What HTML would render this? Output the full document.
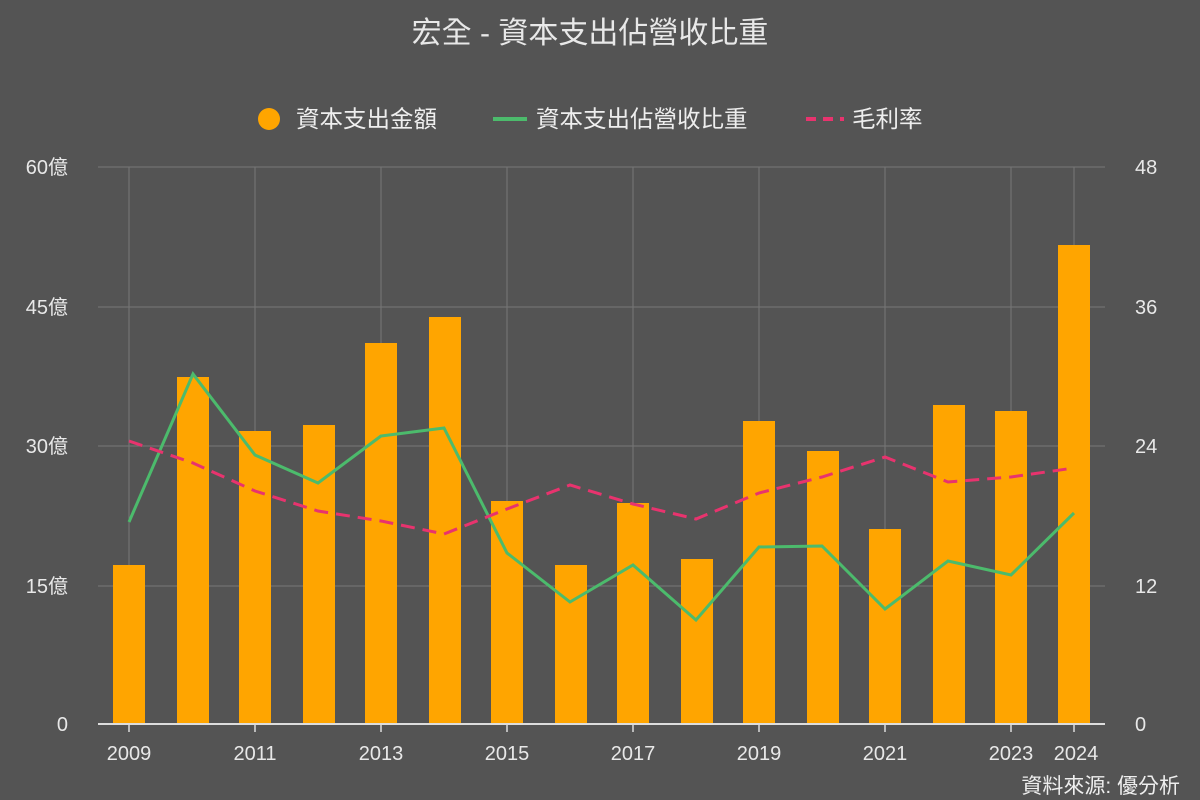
<!DOCTYPE html>
<html><head><meta charset="utf-8"><style>
body{margin:0;background:#545454;}
svg{display:block;font-family:"Liberation Sans","Noto Sans CJK TC",sans-serif;}
</style></head><body>
<svg width="1200" height="800" viewBox="0 0 1200 800">
<rect width="1200" height="800" fill="#545454"/>
<text x="590" y="43" fill="#e8e8e8" font-size="30" text-anchor="middle">宏全 - 資本支出佔營收比重</text>
<circle cx="269" cy="119" r="11" fill="#ffa500"/>
<text x="296" y="127" fill="#eee" font-size="23.5">資本支出金額</text>
<line x1="493" y1="119" x2="527" y2="119" stroke="#4cbb6c" stroke-width="4"/>
<text x="536" y="127" fill="#eee" font-size="23.5">資本支出佔營收比重</text>
<line x1="806" y1="119" x2="844" y2="119" stroke="#e8336e" stroke-width="4" stroke-dasharray="10,7"/>
<text x="852" y="127" fill="#eee" font-size="23.5">毛利率</text>
<g stroke="#777" stroke-width="1">
<line x1="98" y1="167" x2="1105" y2="167"/><line x1="98" y1="307" x2="1105" y2="307"/>
<line x1="98" y1="446" x2="1105" y2="446"/><line x1="98" y1="586" x2="1105" y2="586"/>
<line x1="129" y1="167" x2="129" y2="724"/><line x1="255" y1="167" x2="255" y2="724"/>
<line x1="381" y1="167" x2="381" y2="724"/><line x1="507" y1="167" x2="507" y2="724"/>
<line x1="633" y1="167" x2="633" y2="724"/><line x1="759" y1="167" x2="759" y2="724"/>
<line x1="885" y1="167" x2="885" y2="724"/><line x1="1011" y1="167" x2="1011" y2="724"/>
<line x1="1074" y1="167" x2="1074" y2="724"/>
</g>
<g fill="#ffa500">
<rect x="113" y="565" width="32" height="159"/><rect x="177" y="377" width="32" height="347"/>
<rect x="239" y="431" width="32" height="293"/><rect x="303" y="425" width="32" height="299"/>
<rect x="365" y="343" width="32" height="381"/><rect x="429" y="317" width="32" height="407"/>
<rect x="491" y="501" width="32" height="223"/><rect x="555" y="565" width="32" height="159"/>
<rect x="617" y="503" width="32" height="221"/><rect x="681" y="559" width="32" height="165"/>
<rect x="743" y="421" width="32" height="303"/><rect x="807" y="451" width="32" height="273"/>
<rect x="869" y="529" width="32" height="195"/><rect x="933" y="405" width="32" height="319"/>
<rect x="995" y="411" width="32" height="313"/><rect x="1058" y="245" width="32" height="479"/>
</g>
<polyline fill="none" stroke="#4cbb6c" stroke-width="3" points="129,522 193,374 255,455 318,483 381,436 444,428 507,553 570,602 633,565 696,620 759,547 822,546 885,609 948,561 1011,575 1074,513"/>
<polyline fill="none" stroke="#e8336e" stroke-width="3" stroke-dasharray="14,8" points="129,441 193,463 255,491 318,511 381,521 444,534 507,509 570,485 633,504 696,519 759,493 822,477 885,457 948,482 1011,477 1074,468"/>
<line x1="98" y1="724" x2="1105" y2="724" stroke="#ddd" stroke-width="2"/>
<g stroke="#ddd" stroke-width="1.5">
<line x1="129" y1="724" x2="129" y2="732"/><line x1="255" y1="724" x2="255" y2="732"/><line x1="381" y1="724" x2="381" y2="732"/><line x1="507" y1="724" x2="507" y2="732"/><line x1="633" y1="724" x2="633" y2="732"/><line x1="759" y1="724" x2="759" y2="732"/><line x1="885" y1="724" x2="885" y2="732"/><line x1="1011" y1="724" x2="1011" y2="732"/><line x1="1074" y1="724" x2="1074" y2="732"/>
</g>
<g fill="#e8e8e8" font-size="20" text-anchor="end">
<text x="68" y="174">60億</text><text x="68" y="314">45億</text><text x="68" y="453">30億</text><text x="68" y="593">15億</text><text x="68" y="731">0</text>
</g>
<g fill="#e8e8e8" font-size="20" text-anchor="start">
<text x="1135" y="174">48</text><text x="1135" y="314">36</text><text x="1135" y="453">24</text><text x="1135" y="593">12</text><text x="1135" y="731">0</text>
</g>
<g fill="#e8e8e8" font-size="20" text-anchor="middle">
<text x="129" y="760">2009</text><text x="255" y="760">2011</text><text x="381" y="760">2013</text><text x="507" y="760">2015</text><text x="633" y="760">2017</text><text x="759" y="760">2019</text><text x="885" y="760">2021</text><text x="1011" y="760">2023</text><text x="1076" y="760">2024</text>
</g>
<text x="1180" y="793" fill="#eee" font-size="21" text-anchor="end">資料來源: 優分析</text>
</svg>
</body></html>
